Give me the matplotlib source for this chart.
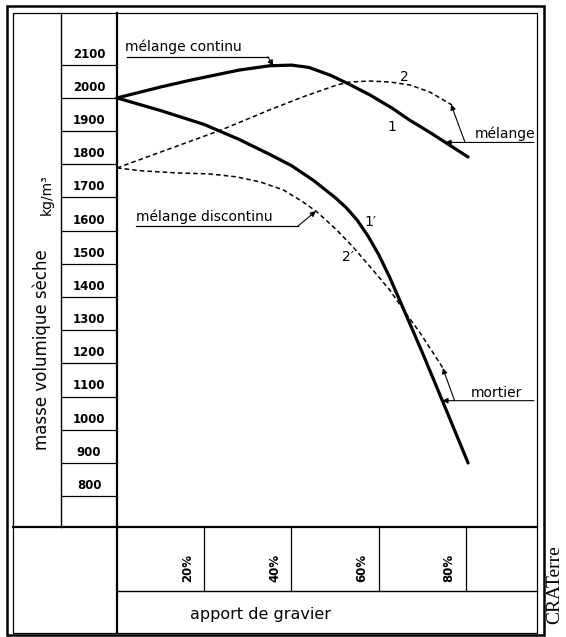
import numpy as np
import matplotlib
matplotlib.use("Agg")
import matplotlib.pyplot as plt
from matplotlib.transforms import blended_transform_factory

# apport de gravier (%) / masse volumique seche (kg/m3)
gravel_1 = [0, 10, 17, 28, 35, 40, 44, 49, 53, 58, 63, 67, 72, 76, 80.5]
dens_1 = [2000, 2033, 2054, 2084, 2097, 2099, 2092, 2068, 2043, 2009, 1970, 1934, 1894, 1860, 1822]

gravel_2 = [0, 24, 35, 42.6, 50.4, 53.3, 57.9, 62.6, 67.2, 71.7, 75.6, 76.8]
dens_2 = [1789, 1904, 1964, 2003, 2039, 2048, 2051, 2048, 2039, 2018, 1988, 1979]

gravel_1p = [0, 10, 20, 28, 35, 40, 45, 50, 52.5, 55, 57.5, 60, 62.5, 65, 70, 75, 80.5]
dens_1p = [2000, 1962, 1920, 1875, 1830, 1796, 1752, 1700, 1670, 1633, 1585, 1528, 1460, 1385,
           1233, 1075, 900]

gravel_2p = [0, 6, 13.8, 21.3, 27.5, 32.8, 38.1, 42.6, 45.8, 50.4, 54.1, 58.7, 62.6, 66.5, 69.5, 74.0, 74.7]
dens_2p = [1789, 1780, 1774, 1771, 1762, 1747, 1723, 1687, 1657, 1602, 1551, 1481, 1420, 1346, 1292, 1201, 1186]

y_ticks = [2100, 2000, 1900, 1800, 1700, 1600, 1500, 1400, 1300, 1200, 1100, 1000, 900, 800]
x_ticks = [20, 40, 60, 80]

W, H = 566, 637
fig = plt.figure(figsize=(W / 100, H / 100), dpi=100)


def fx(p):
    return p / W


def fy(p):
    return 1 - p / H


ax = fig.add_axes([fx(117), fy(527), fx(537) - fx(117), fy(13) - fy(527)])
ax.set_xlim(0, 96.3)
ax.set_ylim(707, 2256)
ax.set_xticks([])
ax.set_yticks([])
for s in ax.spines.values():
    s.set_visible(False)

k = 'black'

# cadre double
fig.add_artist(plt.Rectangle((fx(7), fy(635)), fx(544) - fx(7), fy(6) - fy(635),
                             fill=False, lw=1.8, ec=k, transform=fig.transFigure))
fig.add_artist(plt.Rectangle((fx(13), fy(633)), fx(537) - fx(13), fy(13) - fy(633),
                             fill=False, lw=0.9, ec=k, transform=fig.transFigure))


def fline(x0, y0, x1, y1, lw=1.0):
    fig.add_artist(plt.Line2D([fx(x0), fx(x1)], [fy(y0), fy(y1)], lw=lw, color=k,
                              transform=fig.transFigure))


fline(61, 13, 61, 527, 1.0)
fline(117, 13, 117, 633, 1.6)
fline(13, 527, 537, 527, 1.6)
fline(117, 591, 537, 591, 1.0)

# graduations y
trans_y = blended_transform_factory(fig.transFigure, ax.transData)
for v in y_ticks:
    ax.plot([fx(61), fx(117)], [v, v], transform=trans_y, clip_on=False, color=k, lw=0.9)
    ax.text(fx(89), v + 32, str(v), transform=trans_y, ha='center', va='center',
            fontsize=8.5, fontweight='bold')

# graduations x
trans_x = blended_transform_factory(ax.transData, fig.transFigure)
for p in x_ticks:
    ax.plot([p, p], [fy(591), fy(527)], transform=trans_x, clip_on=False, color=k, lw=0.9)
    ax.text(p - 3.9, fy(568), f"{p}%", transform=trans_x, rotation=90,
            ha='center', va='center', fontsize=8.5, fontweight='bold')

fig.text(fx(260), fy(615), "apport de gravier", ha='center', va='center', fontsize=11.5)
fig.text(fx(42), fy(350), "masse volumique sèche", rotation=90, ha='center', va='center',
         fontsize=12)
fig.text(fx(47), fy(195), "kg/m³", rotation=90, ha='center', va='center', fontsize=10)
fig.text(fx(555), fy(585), "CRATerre", rotation=90, ha='center', va='center',
         fontsize=14, family='Liberation Serif')

# courbes
ax.plot(gravel_1, dens_1, color=k, lw=2.3, solid_capstyle='round',
        solid_joinstyle='round', clip_on=False)
ax.plot(gravel_1p, dens_1p, color=k, lw=2.3, solid_capstyle='round',
        solid_joinstyle='round', clip_on=False)
ax.plot(gravel_2, dens_2, color=k, lw=1.1, ls=(0, (3, 2)), clip_on=False)
ax.plot(gravel_2p, dens_2p, color=k, lw=1.1, ls=(0, (3, 2)), clip_on=False)

ax.text(66, 2063, "2", fontsize=10, ha='center', va='center')
ax.text(63, 1913, "1", fontsize=10, ha='center', va='center')
ax.text(58, 1626, "1′", fontsize=10, ha='center', va='center')
ax.text(53, 1521, "2′", fontsize=10, ha='center', va='center')

arrow = dict(arrowstyle='-|>', lw=0.8, color=k, mutation_scale=8, shrinkA=0, shrinkB=0)

# melange continu
ax.text(1.8, 2154, "mélange continu", fontsize=10, ha='left', va='center')
ax.plot([2.3, 34.6], [2124, 2124], color=k, lw=0.9)
ax.annotate("", xy=(35.8, np.interp(35.8, gravel_1, dens_1)), xytext=(34.6, 2124),
            arrowprops=arrow)

# melange discontinu
ax.text(4.3, 1641, "mélange discontinu", fontsize=10, ha='left', va='center')
ax.plot([4.3, 41.5], [1614, 1614], color=k, lw=0.9)
ax.annotate("", xy=(45.6, np.interp(45.6, gravel_2p, dens_2p)), xytext=(41.5, 1614),
            arrowprops=arrow)

# melange
y_m = np.interp(75.3, gravel_1, dens_1)
ax.text(82.1, y_m + 25, "mélange", fontsize=10, ha='left', va='center')
ax.annotate("", xy=(75.3, y_m), xytext=(95.6, y_m), arrowprops=arrow)
ax.annotate("", xy=(76.6, np.interp(76.6, gravel_2, dens_2)), xytext=(79.8, y_m),
            arrowprops=arrow)

# mortier
y_r = np.interp(74.6, gravel_1p, dens_1p)
ax.text(81.2, y_r + 24, "mortier", fontsize=10, ha='left', va='center')
ax.annotate("", xy=(74.6, y_r), xytext=(95.6, y_r), arrowprops=arrow)
ax.annotate("", xy=(gravel_2p[-1], dens_2p[-1]), xytext=(77.4, y_r), arrowprops=arrow)

fig.savefig("out.png", dpi=100)
